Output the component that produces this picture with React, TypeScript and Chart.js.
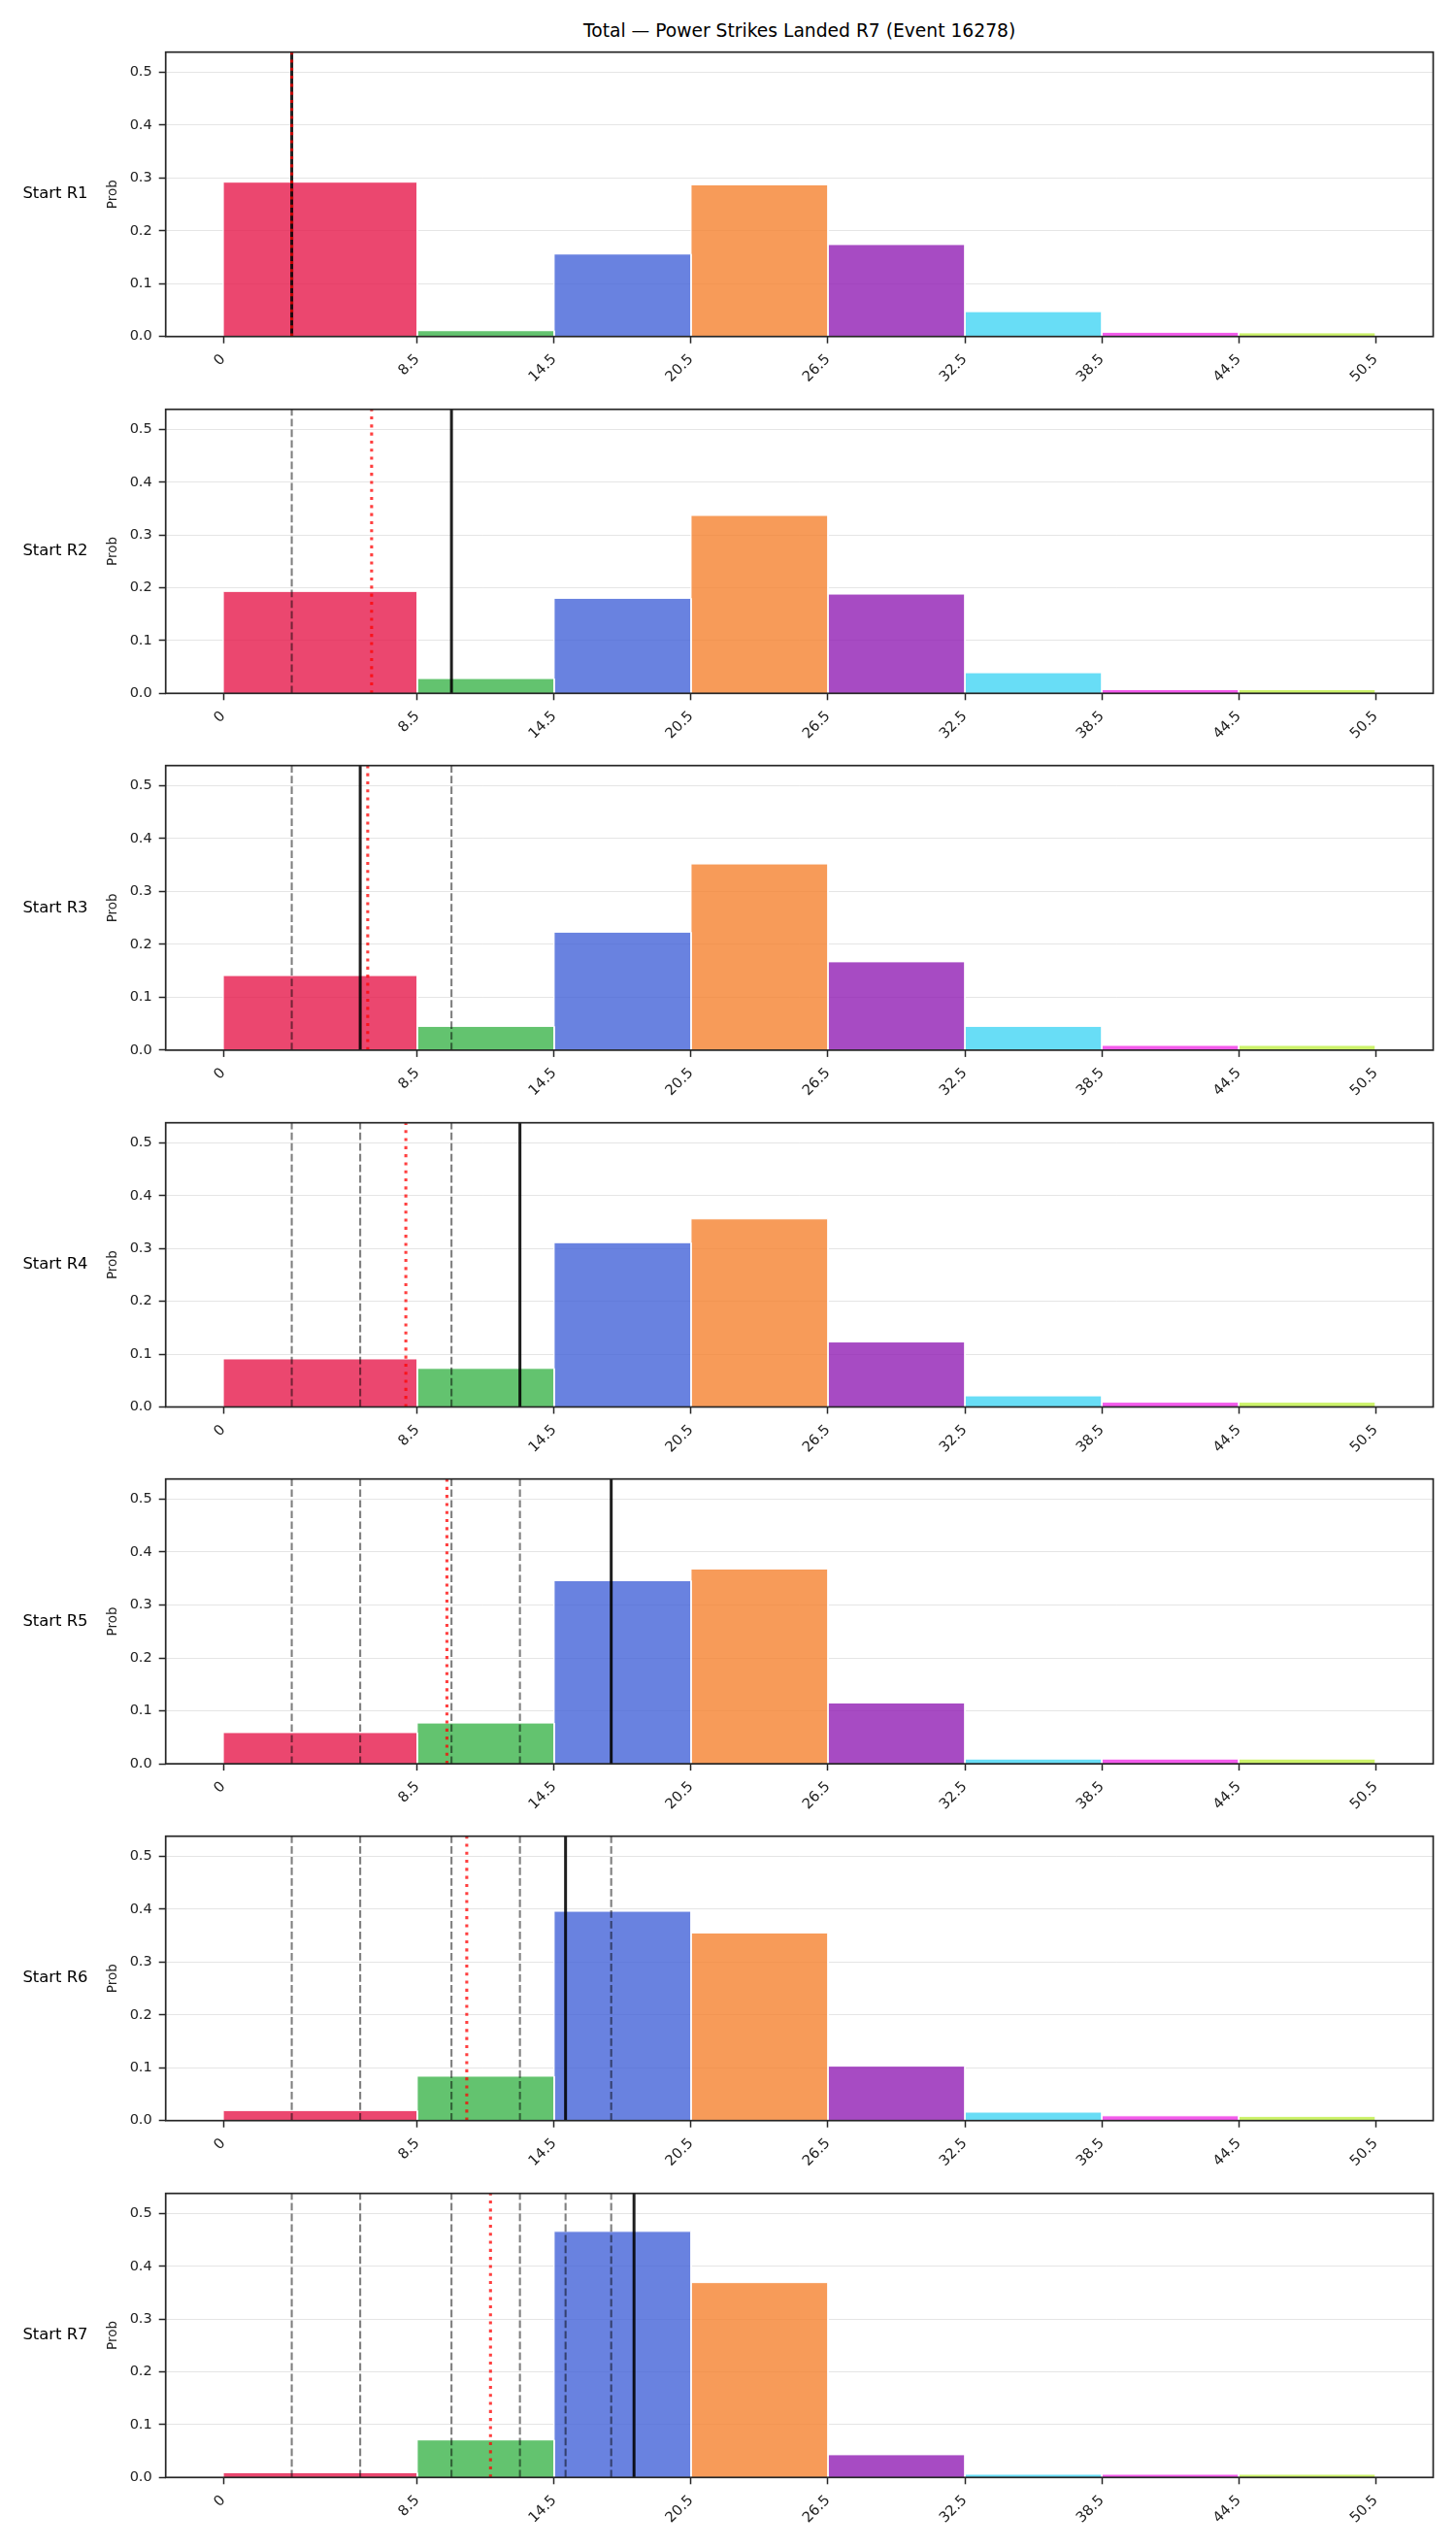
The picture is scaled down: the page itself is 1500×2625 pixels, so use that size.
import React, { useEffect, useRef } from "react";
import { Chart, registerables } from "chart.js";

Chart.register(...registerables);

// ---------- data ----------
const TITLE = "Total — Power Strikes Landed R7 (Event 16278)";
const BIN_EDGES = [0, 8.5, 14.5, 20.5, 26.5, 32.5, 38.5, 44.5, 50.5];
const X_TICKS = [0, 8.5, 14.5, 20.5, 26.5, 32.5, 38.5, 44.5, 50.5];
const Y_TICKS = [0, 0.1, 0.2, 0.3, 0.4, 0.5];
const Y_MAX = 0.538;
const X_MIN = -2.525;
const X_MAX = 53.025;

const ROW_LABELS = ["Start R1", "Start R2", "Start R3", "Start R4", "Start R5", "Start R6", "Start R7"];
const Y_LABEL = "Prob";

const PROB_R1 = [0.292, 0.011, 0.156, 0.287, 0.174, 0.047, 0.008, 0.007];
const PROB_R2 = [0.193, 0.028, 0.18, 0.337, 0.188, 0.039, 0.007, 0.007];
const PROB_R3 = [0.141, 0.045, 0.223, 0.352, 0.167, 0.045, 0.009, 0.009];
const PROB_R4 = [0.091, 0.073, 0.311, 0.356, 0.123, 0.021, 0.009, 0.009];
const PROB_R5 = [0.059, 0.077, 0.346, 0.368, 0.115, 0.009, 0.009, 0.009];
const PROB_R6 = [0.019, 0.084, 0.396, 0.355, 0.103, 0.016, 0.009, 0.008];
const PROB_R7 = [0.009, 0.071, 0.466, 0.369, 0.043, 0.006, 0.006, 0.006];
const PROBS = [PROB_R1, PROB_R2, PROB_R3, PROB_R4, PROB_R5, PROB_R6, PROB_R7];

// value observed at each round (solid black line)
const CURRENT_VALUE = [3, 10, 6, 13, 17, 15, 18];
// earlier rounds' values (grey dashed lines)
const PREV_R1: number[] = [];
const PREV_R2 = [3];
const PREV_R3 = [3, 10];
const PREV_R4 = [3, 6, 10];
const PREV_R5 = [3, 6, 10, 13];
const PREV_R6 = [3, 6, 10, 13, 17];
const PREV_R7 = [3, 6, 10, 13, 15, 17];
const PREVS = [PREV_R1, PREV_R2, PREV_R3, PREV_R4, PREV_R5, PREV_R6, PREV_R7];
// running mean (red dotted line)
const RUNNING_MEAN = [3, 6.5, 6.33, 8, 9.8, 10.67, 11.71];

const BIN_COLORS = [
  "rgba(230,25,75,0.8)",
  "rgba(60,180,75,0.8)",
  "rgba(67,99,216,0.8)",
  "rgba(245,130,48,0.8)",
  "rgba(145,30,180,0.8)",
  "rgba(66,212,244,0.8)",
  "rgba(240,50,230,0.8)",
  "rgba(191,239,69,0.8)",
];

// ---------- layout ----------
const PANEL_TOPS = [50, 417.6, 785.2, 1152.8, 1520.4, 1888, 2255.6];
const PANEL_H = 296.7;
const AX_LEFT = 170.7;
const AX_RIGHT = 1476.5;
const CANVAS_W = 1500;
const CANVAS_H = 368;
const PAD = 12;
const FONT = "'DejaVu Sans', 'Liberation Sans', sans-serif";
const DARK = "#262626";

function Panel({ idx }: { idx: number }) {
  const ref = useRef<HTMLCanvasElement | null>(null);
  const canvasTop = Math.round(PANEL_TOPS[idx]) - PAD;
  const padTop = PANEL_TOPS[idx] - canvasTop;

  useEffect(() => {
    if (!ref.current) return;
    const probs = PROBS[idx];
    const datasets: any[] = [];

    probs.forEach((p, i) => {
      const x0 = BIN_EDGES[i];
      const x1 = BIN_EDGES[i + 1];
      datasets.push({
        data: [
          { x: x0, y: 0 },
          { x: x0, y: p },
          { x: x1, y: p },
          { x: x1, y: 0 },
        ],
        backgroundColor: BIN_COLORS[i],
        borderColor: "#ffffff",
        borderWidth: 1,
        fill: "origin",
        pointRadius: 0,
        tension: 0,
        order: 10,
      });
    });

    PREVS[idx].forEach((v) => {
      datasets.push({
        data: [
          { x: v, y: 0 },
          { x: v, y: Y_MAX },
        ],
        borderColor: "rgba(0,0,0,0.5)",
        borderWidth: 2.1,
        borderDash: [7.7, 3.3],
        fill: false,
        pointRadius: 0,
        order: 3,
      });
    });

    datasets.push({
      data: [
        { x: CURRENT_VALUE[idx], y: 0 },
        { x: CURRENT_VALUE[idx], y: Y_MAX },
      ],
      borderColor: "rgba(0,0,0,0.88)",
      borderWidth: 3,
      fill: false,
      pointRadius: 0,
      order: 2,
    });

    datasets.push({
      data: [
        { x: RUNNING_MEAN[idx], y: 0 },
        { x: RUNNING_MEAN[idx], y: Y_MAX },
      ],
      borderColor: "rgba(255,0,0,0.75)",
      borderWidth: 3.1,
      borderDash: [3.1, 5.2],
      fill: false,
      pointRadius: 0,
      order: 1,
    });

    const textPlugin = {
      id: "panelDecor" + idx,
      afterDraw(chart: any) {
        const { ctx, chartArea } = chart;
        ctx.save();
        ctx.strokeStyle = DARK;
        ctx.lineWidth = 1.7;
        ctx.strokeRect(chartArea.left, chartArea.top, chartArea.right - chartArea.left, chartArea.bottom - chartArea.top);
        const cy = (chartArea.top + chartArea.bottom) / 2;
        ctx.fillStyle = "#000";
        ctx.font = `16.4px ${FONT}`;
        ctx.textAlign = "left";
        ctx.textBaseline = "middle";
        ctx.fillText(ROW_LABELS[idx], 23.4, cy);
        ctx.translate(116.5, cy);
        ctx.rotate(-Math.PI / 2);
        ctx.font = `13.5px ${FONT}`;
        ctx.textAlign = "center";
        ctx.fillStyle = "#222";
        ctx.fillText(Y_LABEL, 0, 0);
        ctx.restore();
      },
    };

    const chart = new Chart(ref.current, {
      type: "line",
      data: { datasets },
      options: {
        animation: false,
        responsive: false,
        devicePixelRatio: 1,
        events: [],
        layout: {
          autoPadding: false,
          padding: { top: padTop, left: 0, right: CANVAS_W - AX_RIGHT, bottom: 0 },
        },
        plugins: {
          legend: { display: false },
          tooltip: { enabled: false },
          title: { display: false },
        },
        scales: {
          x: {
            type: "linear",
            min: X_MIN,
            max: X_MAX,
            afterFit: (scale: any) => {
              scale.height = CANVAS_H - padTop - PANEL_H;
            },
            afterBuildTicks: (scale: any) => {
              scale.ticks = X_TICKS.map((v) => ({ value: v }));
            },
            grid: {
              drawOnChartArea: false,
              drawTicks: true,
              tickLength: 7,
              tickColor: DARK,
              tickWidth: 1.5,
            },
            border: { display: false },
            ticks: {
              autoSkip: false,
              minRotation: 45,
              maxRotation: 45,
              padding: 8,
              color: "#222",
              font: { family: FONT, size: 14.8 },
              callback: (v: any) => String(v),
            },
          },
          y: {
            type: "linear",
            min: 0,
            max: Y_MAX,
            afterFit: (scale: any) => {
              scale.width = AX_LEFT;
            },
            afterBuildTicks: (scale: any) => {
              scale.ticks = Y_TICKS.map((v) => ({ value: v }));
            },
            grid: {
              color: "rgba(0,0,0,0.1)",
              lineWidth: 1,
              drawTicks: true,
              tickLength: 7,
              tickColor: DARK,
              tickWidth: 1.5,
            },
            border: { display: false },
            ticks: {
              padding: 7,
              color: "#222",
              font: { family: FONT, size: 14.5 },
              callback: (v: any) => Number(v).toFixed(1),
            },
          },
        },
      } as any,
      plugins: [textPlugin],
    });
    return () => chart.destroy();
  }, [idx]);

  return (
    <canvas
      ref={ref}
      width={CANVAS_W}
      height={CANVAS_H}
      style={{ position: "absolute", left: 0, top: canvasTop, width: CANVAS_W, height: CANVAS_H, display: "block" }}
    />
  );
}

export default function App() {
  return (
    <div style={{ position: "absolute", left: 0, top: 0, width: 1500, height: 2625, background: "#fff", overflow: "hidden" }}>
      <div
        style={{
          position: "absolute",
          left: AX_LEFT,
          width: AX_RIGHT - AX_LEFT,
          top: 22.5,
          textAlign: "center",
          fontFamily: FONT,
          fontSize: 18.7,
          lineHeight: "18.7px",
          color: "#000",
          whiteSpace: "nowrap",
        }}
      >
        {TITLE}
      </div>
      {ROW_LABELS.map((_, i) => (
        <Panel key={i} idx={i} />
      ))}
    </div>
  );
}
